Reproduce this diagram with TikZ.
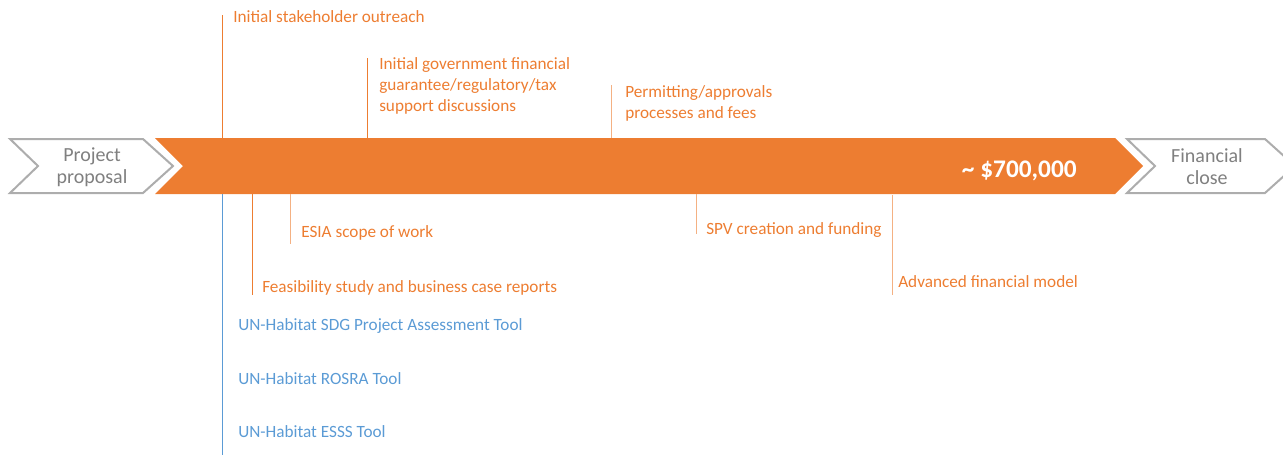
\documentclass[tikz,border=0pt]{standalone}
\usepackage{fontspec}
\setmainfont{Carlito}

\definecolor{barorange}{HTML}{ED7D31}
\definecolor{peach}{HTML}{F4B183}
\definecolor{toolblue}{HTML}{5B9BD5}
\definecolor{stepgray}{HTML}{ADADAD}
\definecolor{steptext}{HTML}{808080}

\begin{document}
\begin{tikzpicture}[x=0.75pt,y=-0.75pt,
    lbl/.style={anchor=base west,inner sep=0pt,text=barorange,align=left,
                font=\fontsize{12.9}{15.4}\selectfont},
    tool/.style={lbl,text=toolblue},
    lead/.style={draw=barorange,line width=0.75pt},
    leadlight/.style={draw=peach,line width=0.75pt},
    stepline/.style={draw=stepgray,line width=1.5pt,fill=white},
    stagetext/.style={text=steptext,align=center,inner sep=0pt,
                font=\fontsize{15}{16.5}\selectfont}]
        \useasboundingbox (0,0) rectangle (1283,455);
        % grey steps at both ends
        \draw[stepline] (10,139) -- (143,139) -- (173,166) -- (143,193)
              -- (10,193) -- (38,166) -- cycle;
        \draw[stepline] (1127,139) -- (1265,139) -- (1295,166) -- (1265,193)
              -- (1127,193) -- (1155,166) -- cycle;
        \node[stagetext] (proposal) at (92,167) {Project\\proposal};
        \node[stagetext] (close) at (1207,167) {Financial\\close};
        % orange arrow
        \fill[barorange] (155,138) -- (1115,138) -- (1143,166) -- (1115,194)
              -- (155,194) -- (183,166) -- cycle;
        \node[anchor=base east,inner sep=0pt,text=white,
              font=\bfseries\fontsize{19}{22}\selectfont] (cost) at (1077,177)
              {\textasciitilde\ \$700,000};
        % points on the arrow
        \coordinate (outreach-at) at (222,138);
        \coordinate (gov-at) at (367,138);
        \coordinate (permit-at) at (611,138);
        \coordinate (feas-at) at (252,194);
        \coordinate (esia-at) at (290,194);
        \coordinate (spv-at) at (696,194);
        \coordinate (model-at) at (892,195);
        \coordinate (tools-at) at (222,194);
        \coordinate (tools-end) at (222,455);
        % above the arrow (base is the last line)
        \node[lbl] (outreach) at (233,22) {Initial stakeholder outreach};
        \node[lbl] (gov) at (379,111) {Initial government financial\\
              guarantee/regulatory/tax\\support discussions};
        \node[lbl] (permit) at (625,118) {Permitting/approvals\\processes and fees};
        \draw[lead] (outreach-at) -- ([yshift=-4pt]outreach-at |- outreach.north);
        \draw[lead] (gov-at) -- (gov-at |- gov.north);
        \draw[leadlight] (permit-at) -- (permit-at |- permit.north);
        % below the arrow
        \node[lbl] (esia) at (301,237) {ESIA scope of work};
        \node[lbl] (feas) at (262,292) {Feasibility study and business case reports};
        \node[lbl] (spv) at (706,234) {SPV creation and funding};
        \node[lbl] (model) at (898,287) {Advanced financial model};
        \draw[leadlight] (esia-at) -- ([yshift=-3pt]esia-at |- esia.south);
        \draw[lead] (feas-at) -- (feas-at |- feas.south);
        \draw[leadlight] (spv-at) -- (spv-at |- spv.base);
        \draw[leadlight] (model-at) -- ([yshift=-6pt]model-at |- model.base);
        % tools
        \draw[draw=toolblue,line width=0.75pt] (tools-at) -- (tools-end);
        \node[tool] (sdg) at (238,330) {UN-Habitat SDG Project Assessment Tool};
        \node[tool] (rosra) at (238,384) {UN-Habitat ROSRA Tool};
        \node[tool] (esss) at (238,437) {UN-Habitat ESSS Tool};
\end{tikzpicture}
\end{document}
